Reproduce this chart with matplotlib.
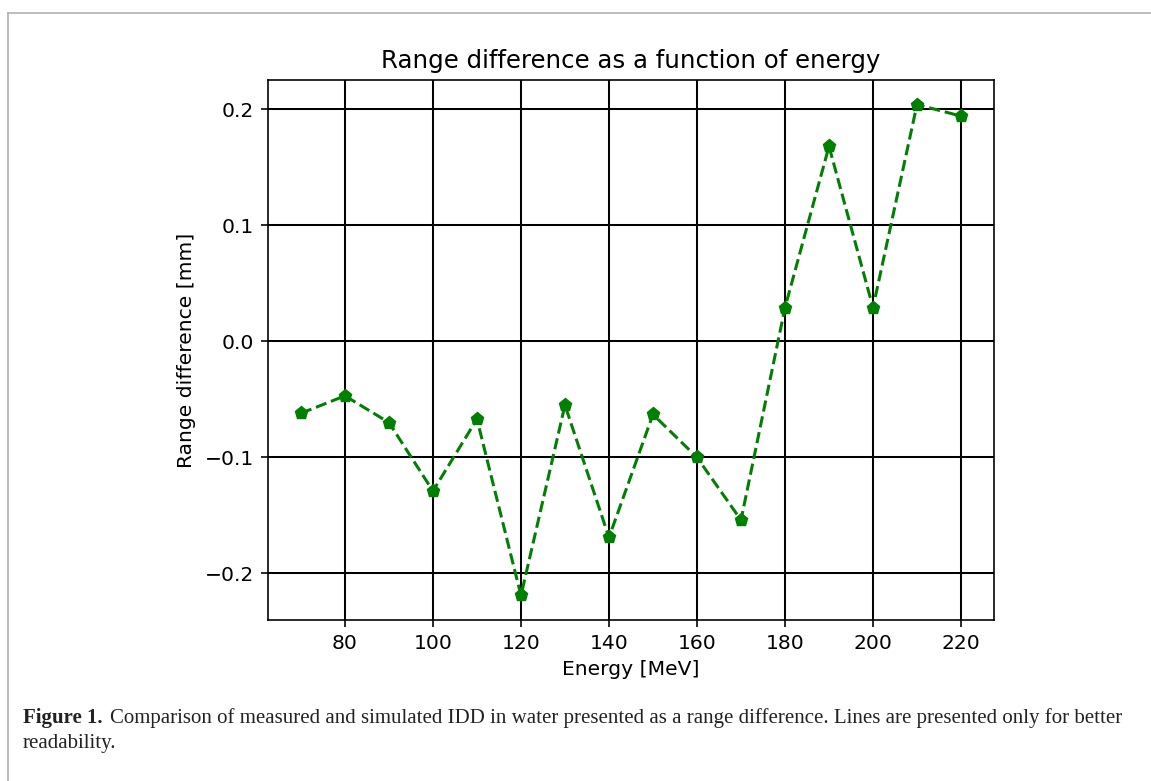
import matplotlib
matplotlib.use('Agg')
import matplotlib.pyplot as plt
from matplotlib.lines import Line2D

# range difference per beam energy
energy = [70, 80, 90, 100, 110, 120, 130, 140, 150, 160, 170, 180, 190, 200, 210, 220]
range_diff = [-0.062, -0.047, -0.070, -0.129, -0.067, -0.219, -0.055, -0.169,
              -0.063, -0.100, -0.154, 0.029, 0.168, 0.029, 0.204, 0.194]

S = 1.46  # scale of the original 6.4x4.8 figure

fig = plt.figure(figsize=(11.51, 7.81), dpi=100)
ax = fig.add_axes([0.2328, 0.2061, 0.6308, 0.6915])

ax.plot(energy, range_diff, 'p--', color='green', lw=1.5 * S, markersize=6.7 * S)
ax.grid(True, color='k', lw=1.0 * S)
ax.set_axisbelow(True)

ax.set_title('Range difference as a function of energy', fontsize=12 * S, pad=6 * S)
ax.set_xlabel('Energy [MeV]', fontsize=10 * S, labelpad=3.5 * S)
ax.set_ylabel('Range difference [mm]', fontsize=10 * S, labelpad=4 * S)
ax.tick_params(labelsize=10 * S, width=0.8 * S, length=3.5 * S, pad=3.5 * S)
for sp in ax.spines.values():
    sp.set_linewidth(0.8 * S)

# page frame and caption
fig.add_artist(Line2D([8 / 1151, 1], [1 - 13 / 781, 1 - 13 / 781], color='#b0b0b0', lw=1.2))
fig.add_artist(Line2D([8 / 1151, 8 / 1151], [0, 1 - 13 / 781], color='#b0b0b0', lw=1.2))

cap_kw = dict(fontsize=15, family='Liberation Serif', va='baseline', color='#222222')
t = fig.text(23 / 1151, 1 - 723 / 781, 'Figure 1.', fontweight='bold', **cap_kw)
fig.canvas.draw()
bb = t.get_window_extent()
fig.text((bb.x1 + 7) / 1151, 1 - 723 / 781,
         'Comparison of measured and simulated IDD in water presented as a range difference. '
         'Lines are presented only for better', **cap_kw)
fig.text(23 / 1151, 1 - 748 / 781, 'readability.', **cap_kw)

fig.savefig('out.png', dpi=100)
